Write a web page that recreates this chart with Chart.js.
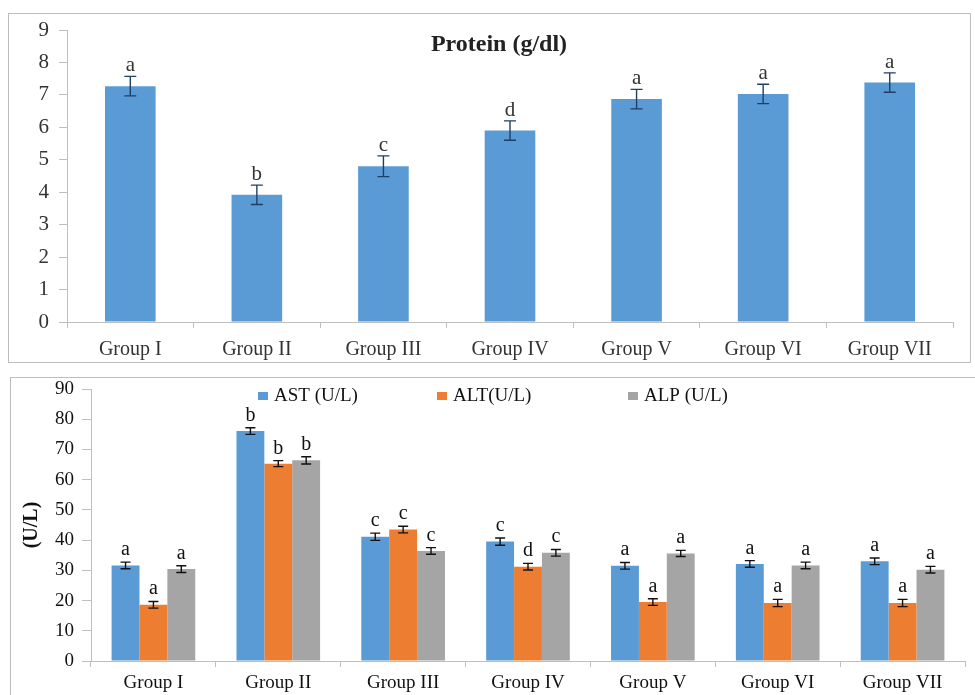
<!DOCTYPE html>
<html>
<head>
<meta charset="utf-8">
<script src="https://cdn.jsdelivr.net/npm/chart.js@4.4.1/dist/chart.umd.min.js"></script>
<style>
  html, body { margin: 0; padding: 0; background: #fff; overflow: hidden; }
  .box { position: absolute; border: 1px solid #bdbdbd; background: #fff; }
  #topBox { left: 8px; top: 13px; width: 961px; height: 348px; }
  #botBox { left: 10px; top: 377px; width: 968px; height: 320px; }
  canvas { display: block; }
</style>
</head>
<body>
<div class="box" id="topBox"><canvas id="proteinChart" width="961" height="348"></canvas></div>
<div class="box" id="botBox"><canvas id="enzymeChart" width="968" height="320"></canvas></div>
<script>
// ---- data ----
var groups = ['Group I', 'Group II', 'Group III', 'Group IV', 'Group V', 'Group VI', 'Group VII'];

var protein        = [7.27, 3.92, 4.80, 5.90, 6.87, 7.03, 7.38];
var proteinErr     = [0.30, 0.30, 0.32, 0.30, 0.30, 0.30, 0.30];
var proteinLetters = ['a', 'b', 'c', 'd', 'a', 'a', 'a'];

var ast = [31.6, 76.1, 41.1, 39.5, 31.5, 32.1, 33.0];
var alt = [18.6, 65.3, 43.5, 31.2, 19.5, 19.2, 19.2];
var alp = [30.4, 66.4, 36.4, 35.8, 35.6, 31.6, 30.2];
var astErr = [1.1, 1.1, 1.2, 1.2, 1.1, 1.1, 1.1];
var altErr = [1.1, 1.0, 1.1, 1.1, 1.1, 1.2, 1.2];
var alpErr = [1.1, 1.2, 1.1, 1.1, 1.0, 1.1, 1.1];
var astLetters = ['a', 'b', 'c', 'c', 'a', 'a', 'a'];
var altLetters = ['a', 'b', 'c', 'd', 'a', 'a', 'a'];
var alpLetters = ['a', 'b', 'c', 'c', 'a', 'a', 'a'];

var FONT = "'Liberation Serif', 'Times New Roman', serif";

// error bars + significance letters, drawn from each bar element and the y scale
var errorBarPlugin = {
  id: 'errorBars',
  afterDatasetsDraw: function(chart, args, opts) {
    var ctx = chart.ctx;
    var yScale = chart.scales.y;
    chart.data.datasets.forEach(function(ds, di) {
      var meta = chart.getDatasetMeta(di);
      meta.data.forEach(function(bar, i) {
        var v = ds.data[i], e = ds.errors[i];
        var yTop = yScale.getPixelForValue(v + e);
        var yBot = yScale.getPixelForValue(v - e);
        var x = bar.x, cap = opts.cap;
        ctx.save();
        ctx.strokeStyle = opts.color;
        ctx.lineWidth = 1.4;
        ctx.beginPath();
        ctx.moveTo(x, yTop); ctx.lineTo(x, yBot);
        ctx.moveTo(x - cap, yTop); ctx.lineTo(x + cap, yTop);
        ctx.moveTo(x - cap, yBot); ctx.lineTo(x + cap, yBot);
        ctx.stroke();
        ctx.fillStyle = opts.letterColor;
        ctx.font = opts.letterFont;
        ctx.textAlign = 'center';
        ctx.textBaseline = 'alphabetic';
        ctx.fillText(ds.letters[i], x, yTop - opts.gap);
        ctx.restore();
      });
    });
  }
};

var titlePlugin = {
  id: 'innerTitle',
  afterDraw: function(chart, args, opts) {
    if (!opts.text) return;
    var ctx = chart.ctx;
    ctx.save();
    ctx.font = opts.font;
    ctx.fillStyle = opts.color;
    ctx.textAlign = 'center';
    ctx.textBaseline = 'middle';
    ctx.fillText(opts.text, opts.x, opts.y);
    ctx.restore();
  }
};

var innerLegendPlugin = {
  id: 'innerLegend',
  afterDraw: function(chart, args, opts) {
    if (!opts.xs) return;
    var ctx = chart.ctx;
    ctx.save();
    ctx.font = opts.font;
    ctx.textBaseline = 'middle';
    ctx.textAlign = 'left';
    chart.data.datasets.forEach(function(ds, i) {
      var x = opts.xs[i];
      ctx.fillStyle = ds.backgroundColor;
      ctx.fillRect(x, opts.y - 4, 10, 8);
      ctx.fillStyle = opts.color;
      ctx.fillText(ds.label, x + 16, opts.y);
    });
    ctx.restore();
  }
};

Chart.register(errorBarPlugin, titlePlugin, innerLegendPlugin);

function initProteinChart() {
  var ctx = document.getElementById('proteinChart');
  new Chart(ctx, {
    type: 'bar',
    data: {
      labels: groups,
      datasets: [{
        label: 'Protein (g/dl)',
        data: protein,
        errors: proteinErr,
        letters: proteinLetters,
        backgroundColor: '#5b9bd5',
        categoryPercentage: 1.0,
        barPercentage: 0.4
      }]
    },
    options: {
      responsive: false,
      animation: false,
      layout: { padding: { left: 0, right: 17, top: 16, bottom: 0 } },
      scales: {
        x: {
          grid: { display: true, drawOnChartArea: false, offset: true, tickLength: 6, color: '#bfbfbf' },
          border: { color: '#bfbfbf' },
          ticks: { color: '#333', padding: 10, font: { family: FONT, size: 20 } },
          afterFit: function(s) { s.height = 40; }
        },
        y: {
          min: 0, max: 9,
          grid: { display: true, drawOnChartArea: false, tickLength: 8, color: '#bfbfbf' },
          border: { color: '#bfbfbf' },
          ticks: { stepSize: 1, color: '#333', padding: 10, font: { family: FONT, size: 21 } },
          afterFit: function(s) { s.width = 58; s.paddingTop = 0; s.paddingBottom = 0; }
        }
      },
      plugins: {
        legend: { display: false },
        tooltip: { enabled: false },
        errorBars: { color: '#1f3f66', cap: 6, gap: 5, letterColor: '#333', letterFont: '21px ' + FONT },
        innerTitle: { text: 'Protein (g/dl)', x: 490, y: 31, font: 'bold 24px ' + FONT, color: '#222' }
      }
    }
  });
}

function initEnzymeChart() {
  var ctx = document.getElementById('enzymeChart');
  new Chart(ctx, {
    type: 'bar',
    data: {
      labels: groups,
      datasets: [
        { label: 'AST (U/L)', data: ast, errors: astErr, letters: astLetters, backgroundColor: '#5b9bd5' },
        { label: 'ALT(U/L)',  data: alt, errors: altErr, letters: altLetters, backgroundColor: '#ed7d31' },
        { label: 'ALP (U/L)', data: alp, errors: alpErr, letters: alpLetters, backgroundColor: '#a5a5a5' }
      ]
    },
    options: {
      responsive: false,
      animation: false,
      datasets: { bar: { categoryPercentage: 0.67, barPercentage: 1.0 } },
      layout: { padding: { left: 0, right: 14, top: 11, bottom: 0 } },
      scales: {
        x: {
          grid: { display: true, drawOnChartArea: false, offset: true, tickLength: 6, color: '#bfbfbf' },
          border: { color: '#bfbfbf' },
          ticks: { color: '#111', padding: 5, font: { family: FONT, size: 19 } },
          afterFit: function(s) { s.height = 37; }
        },
        y: {
          min: 0, max: 90,
          title: { display: true, text: '(U/L)', color: '#111', padding: 9, font: { family: FONT, size: 20, weight: 'bold' } },
          grid: { display: true, drawOnChartArea: false, tickLength: 9, color: '#bfbfbf' },
          border: { color: '#bfbfbf' },
          ticks: { stepSize: 10, color: '#111', padding: 8, font: { family: FONT, size: 19 } },
          afterFit: function(s) { s.width = 80; s.paddingTop = 0; s.paddingBottom = 0; }
        }
      },
      plugins: {
        legend: { display: false },
        tooltip: { enabled: false },
        errorBars: { color: '#111', cap: 5, gap: 7, letterColor: '#111', letterFont: '20px ' + FONT },
        innerLegend: { xs: [247, 426, 617], y: 18, font: '19px ' + FONT, color: '#111' }
      }
    }
  });
}

initProteinChart();
initEnzymeChart();
</script>
</body>
</html>
